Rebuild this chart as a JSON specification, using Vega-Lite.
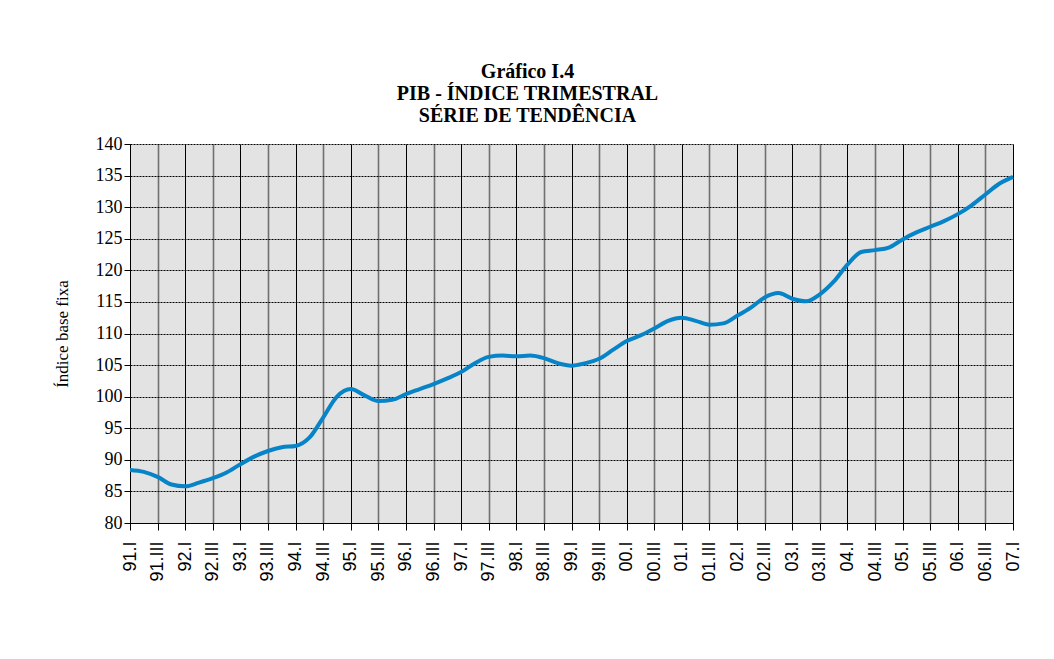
{
  "$schema": "https://vega.github.io/schema/vega-lite/v6.json",
  "width": 883,
  "height": 379,
  "autosize": {"type": "none"},
  "padding": {"left": 130, "top": 144, "right": 41, "bottom": 136},
  "background": "white",
  "title": {
    "text": ["Gráfico I.4", "PIB - ÍNDICE TRIMESTRAL", "SÉRIE DE TENDÊNCIA"],
    "font": "Liberation Serif",
    "fontSize": 20,
    "fontWeight": "bold",
    "color": "black",
    "anchor": "middle",
    "dx": -44,
    "lineHeight": 22,
    "offset": 9
  },
  "data": {
    "values": [
      {"q": "91.I", "v": 88.4}, {"q": "91.II", "v": 88.1}, {"q": "91.III", "v": 87.3}, {"q": "91.IV", "v": 86.1},
      {"q": "92.I", "v": 85.8}, {"q": "92.II", "v": 86.4}, {"q": "92.III", "v": 87.1}, {"q": "92.IV", "v": 88.0},
      {"q": "93.I", "v": 89.3}, {"q": "93.II", "v": 90.5}, {"q": "93.III", "v": 91.4}, {"q": "93.IV", "v": 92.0},
      {"q": "94.I", "v": 92.2}, {"q": "94.II", "v": 93.5}, {"q": "94.III", "v": 96.7}, {"q": "94.IV", "v": 100.0},
      {"q": "95.I", "v": 101.2}, {"q": "95.II", "v": 100.2}, {"q": "95.III", "v": 99.3}, {"q": "95.IV", "v": 99.5},
      {"q": "96.I", "v": 100.4}, {"q": "96.II", "v": 101.2}, {"q": "96.III", "v": 102.0}, {"q": "96.IV", "v": 102.9},
      {"q": "97.I", "v": 103.9}, {"q": "97.II", "v": 105.3}, {"q": "97.III", "v": 106.3}, {"q": "97.IV", "v": 106.5},
      {"q": "98.I", "v": 106.4}, {"q": "98.II", "v": 106.5}, {"q": "98.III", "v": 106.1}, {"q": "98.IV", "v": 105.3},
      {"q": "99.I", "v": 104.9}, {"q": "99.II", "v": 105.3}, {"q": "99.III", "v": 106.0}, {"q": "99.IV", "v": 107.4},
      {"q": "00.I", "v": 108.8}, {"q": "00.II", "v": 109.7}, {"q": "00.III", "v": 110.8}, {"q": "00.IV", "v": 112.0},
      {"q": "01.I", "v": 112.5}, {"q": "01.II", "v": 112.0}, {"q": "01.III", "v": 111.4}, {"q": "01.IV", "v": 111.6},
      {"q": "02.I", "v": 112.8}, {"q": "02.II", "v": 114.1}, {"q": "02.III", "v": 115.7}, {"q": "02.IV", "v": 116.4},
      {"q": "03.I", "v": 115.5}, {"q": "03.II", "v": 115.1}, {"q": "03.III", "v": 116.2}, {"q": "03.IV", "v": 118.2},
      {"q": "04.I", "v": 120.9}, {"q": "04.II", "v": 122.9}, {"q": "04.III", "v": 123.2}, {"q": "04.IV", "v": 123.6},
      {"q": "05.I", "v": 124.9}, {"q": "05.II", "v": 126.0}, {"q": "05.III", "v": 126.9}, {"q": "05.IV", "v": 127.8},
      {"q": "06.I", "v": 128.9}, {"q": "06.II", "v": 130.3}, {"q": "06.III", "v": 132.0}, {"q": "06.IV", "v": 133.7},
      {"q": "07.I", "v": 134.8}
    ]
  },
  "mark": {"type": "line", "color": "#0784c7", "strokeWidth": 4, "interpolate": "monotone"},
  "encoding": {
    "x": {
      "field": "q",
      "type": "ordinal",
      "sort": null,
      "scale": {"padding": 0},
      "axis": {
        "title": null,
        "values": ["91.I","91.III","92.I","92.III","93.I","93.III","94.I","94.III","95.I","95.III","96.I","96.III","97.I","97.III","98.I","98.III","99.I","99.III","00.I","00.III","01.I","01.III","02.I","02.III","03.I","03.III","04.I","04.III","05.I","05.III","06.I","06.III","07.I"],
        "labelAngle": 270,
        "labelFont": "Liberation Sans",
        "labelFontSize": 18,
        "labelColor": "black",
        "labelPadding": 11,
        "labelOverlap": false,
        "domainColor": "black",
        "tickColor": "black",
        "tickSize": 7,
        "grid": true,
        "gridColor": {"condition": {"test": "indexof(datum.value, 'III') >= 0", "value": "#707070"}, "value": "black"},
        "gridWidth": {"condition": {"test": "indexof(datum.value, 'III') >= 0", "value": 1.6}, "value": 1},
        "gridOpacity": 1
      }
    },
    "y": {
      "field": "v",
      "type": "quantitative",
      "scale": {"domain": [80, 140], "nice": false, "zero": false},
      "axis": {
        "title": "Índice base fixa",
        "titleFont": "Liberation Serif",
        "titleFontSize": 17,
        "titleFontWeight": "normal",
        "titleColor": "black",
        "titlePadding": 24,
        "values": [80,85,90,95,100,105,110,115,120,125,130,135,140],
        "labelFont": "Liberation Serif",
        "labelFontSize": 18,
        "labelColor": "black",
        "labelPadding": 2,
        "domainColor": "black",
        "tickColor": "black",
        "tickSize": 6,
        "grid": true,
        "gridColor": "black",
        "gridDash": [2, 1],
        "gridOpacity": 1
      }
    }
  },
  "config": {
    "view": {"fill": "#e3e3e3", "stroke": null}
  }
}
